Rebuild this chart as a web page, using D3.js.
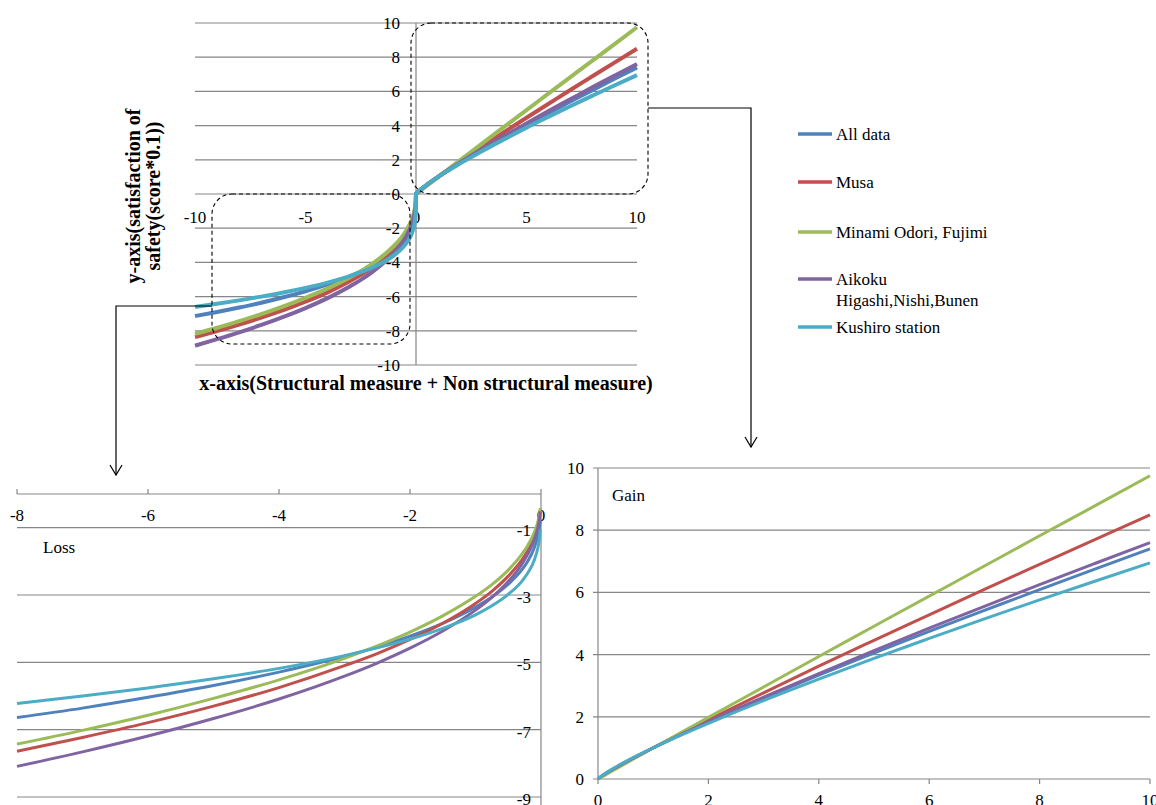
<!DOCTYPE html>
<html><head><meta charset="utf-8">
<script src="https://cdn.jsdelivr.net/npm/d3@7"></script>
<style>
body{margin:0;background:#fff}
svg{display:block}
</style>
</head><body>
<svg id="c" width="1156" height="805"></svg>
<script>
// ---------- data ----------
const seriesNames = ["All data","Musa","Minami Odori, Fujimi","Aikoku Higashi,Nishi,Bunen","Kushiro station"];
const seriesColors = ["#4F81BD","#C0504D","#9BBB59","#8064A2","#4BACC6"];

const xLoss = [-10,-9,-8,-7,-6,-5,-4,-3,-2.5,-2,-1.5,-1,-0.75,-0.5,-0.3,-0.2,-0.1,-0.05,-0.02,-0.01];
const lossAll     = [-7.14,-6.90,-6.64,-6.36,-6.04,-5.69,-5.29,-4.82,-4.54,-4.22,-3.84,-3.36,-3.06,-2.68,-2.27,-1.99,-1.58,-1.26,-0.94,-0.75];
const lossMusa    = [-8.37,-8.02,-7.64,-7.23,-6.79,-6.30,-5.75,-5.10,-4.74,-4.32,-3.84,-3.25,-2.89,-2.44,-1.98,-1.68,-1.26,-0.95,-0.65,-0.49];
const lossMinami  = [-8.18,-7.82,-7.43,-7.02,-6.57,-6.07,-5.52,-4.88,-4.51,-4.10,-3.62,-3.04,-2.69,-2.26,-1.81,-1.52,-1.13,-0.84,-0.57,-0.42];
const lossAikoku  = [-8.87,-8.49,-8.09,-7.66,-7.19,-6.67,-6.09,-5.41,-5.02,-4.58,-4.07,-3.45,-3.07,-2.60,-2.11,-1.78,-1.34,-1.01,-0.69,-0.52];
const lossKushiro = [-6.60,-6.42,-6.22,-6.00,-5.76,-5.49,-5.18,-4.80,-4.57,-4.31,-3.99,-3.59,-3.32,-2.98,-2.61,-2.34,-1.95,-1.62,-1.27,-1.06];

const xGain = [0,0.05,0.1,0.25,0.5,1,1.5,2,3,4,5,6,7,8,9,10];
const gainAll     = [0,0.07,0.14,0.30,0.55,1,1.42,1.83,2.60,3.34,4.05,4.75,5.42,6.09,6.75,7.40];
const gainMusa    = [0,0.06,0.12,0.28,0.53,1,1.46,1.90,2.77,3.63,4.46,5.28,6.10,6.90,7.70,8.49];
const gainMinami  = [0,0.05,0.10,0.25,0.50,1,1.49,1.98,2.96,3.94,4.91,5.88,6.85,7.82,8.78,9.75];
const gainAikoku  = [0,0.07,0.13,0.29,0.54,1,1.43,1.84,2.63,3.39,4.13,4.85,5.55,6.25,6.93,7.60];
const gainKushiro = [0,0.08,0.14,0.31,0.56,1,1.41,1.79,2.52,3.21,3.88,4.52,5.15,5.76,6.36,6.95];

const lossValues = [lossAll,lossMusa,lossMinami,lossAikoku,lossKushiro];
const gainValues = [gainAll,gainMusa,gainMinami,gainAikoku,gainKushiro];

const mainXTicks = [-10,-5,0,5,10];
const mainYTicks = [-10,-8,-6,-4,-2,0,2,4,6,8,10];
const lossXTicks = [-8,-6,-4,-2,0];
const lossYTicks = [-1,-3,-5,-7,-9];
const gainXTicks = [0,2,4,6,8,10];
const gainYTicks = [0,2,4,6,8,10];

const xTitle = "x-axis(Structural measure + Non structural measure)";
const yTitleLines = ["y-axis(satisfaction of","safety(score*0.1))"];

// ---------- drawing ----------
const FONT = "'Liberation Serif', 'Times New Roman', Tinos, 'DejaVu Serif', serif";
const svg = d3.select("#c").attr("font-family",FONT);
svg.append("rect").attr("width",1156).attr("height",805).attr("fill","#fff");
const GRID = "#868686";
const FS = 17;

function txt(sel){ return sel.append("text").attr("font-family",FONT).attr("fill","#000"); }

function seriesPoints(i, which){
  const pts = [];
  if (which !== "gain") xLoss.forEach((x,j)=>pts.push([x, lossValues[i][j]]));
  if (which !== "loss") xGain.forEach((x,j)=>pts.push([x, gainValues[i][j]]));
  return pts;
}

// ===== main chart =====
const mx = d3.scaleLinear().domain([-10,10]).range([195,637]);
const my = d3.scaleLinear().domain([-10,10]).range([365,23]);
const gMain = svg.append("g");
gMain.selectAll(".grid").data(mainYTicks).join("line")
  .attr("x1",mx(-10)).attr("x2",mx(10)).attr("y1",d=>my(d)).attr("y2",d=>my(d))
  .attr("stroke",GRID).attr("stroke-width",1.2);
gMain.append("line").attr("x1",mx(0)).attr("x2",mx(0)).attr("y1",my(10)).attr("y2",my(-10))
  .attr("stroke",GRID).attr("stroke-width",1.2);
gMain.selectAll(".yl").data(mainYTicks).join("text")
  .attr("font-family",FONT)
  .attr("x",mx(0)-16).attr("y",d=>my(d)).attr("dy","0.35em").attr("text-anchor","end")
  .attr("font-size",FS).text(d=>d);
gMain.selectAll(".xl").data(mainXTicks).join("text")
  .attr("font-family",FONT)
  .attr("x",d=>mx(d)).attr("y",223).attr("text-anchor","middle")
  .attr("font-size",FS).text(d=>d);
const mLine = d3.line().x(d=>mx(d[0])).y(d=>my(d[1])).curve(d3.curveMonotoneX);
seriesNames.forEach((n,i)=>{
  gMain.append("path").attr("d",mLine(seriesPoints(i,"all"))).attr("fill","none")
    .attr("stroke",seriesColors[i]).attr("stroke-width",4).attr("stroke-linejoin","round");
});
// titles
txt(svg).attr("x",426).attr("y",390).attr("text-anchor","middle")
  .attr("font-size",20).attr("font-weight","bold").text(xTitle);
yTitleLines.forEach((t,k)=>{
  txt(svg).attr("transform",`translate(${140+k*20},196) rotate(-90)`)
    .attr("text-anchor","middle").attr("font-size",20).attr("font-weight","bold").text(t);
});
// dashed boxes
svg.append("rect").attr("x",411).attr("y",23).attr("width",237).attr("height",171).attr("rx",20)
  .attr("fill","none").attr("stroke","#000").attr("stroke-dasharray","4,3").attr("stroke-width",1.1);
svg.append("rect").attr("x",212).attr("y",194).attr("width",198).attr("height",150).attr("rx",20)
  .attr("fill","none").attr("stroke","#000").attr("stroke-dasharray","4,3").attr("stroke-width",1.1);
// connectors
function connector(pts){
  svg.append("polyline").attr("points",pts.map(p=>p.join(",")).join(" "))
    .attr("fill","none").attr("stroke","#000").attr("stroke-width",1.2);
  const e = pts[pts.length-1];
  svg.append("polyline").attr("points",`${e[0]-6},${e[1]-10} ${e[0]},${e[1]} ${e[0]+6},${e[1]-10}`)
    .attr("fill","none").attr("stroke","#000").attr("stroke-width",1.2);
}
connector([[212,306],[116,306],[116,475]]);
connector([[648,108],[751,108],[751,447]]);

// legend
const legendY = [134,182,232,279,327];
seriesNames.forEach((n,i)=>{
  svg.append("line").attr("x1",798).attr("x2",832).attr("y1",legendY[i]).attr("y2",legendY[i])
    .attr("stroke",seriesColors[i]).attr("stroke-width",3.5);
});
const legendLabelLines = [["All data"],["Musa"],["Minami Odori, Fujimi"],["Aikoku","Higashi,Nishi,Bunen"],["Kushiro station"]];
legendLabelLines.forEach((lines,i)=>{
  lines.forEach((t,k)=>{
    txt(svg).attr("x",836).attr("y",legendY[i]+k*21).attr("dy","0.35em")
      .attr("font-size",FS).text(t);
  });
});

// ===== Loss panel =====
const lx = d3.scaleLinear().domain([-8,0]).range([17,541]);
const ly = d3.scaleLinear().domain([-9,0]).range([797,494]);
const gL = svg.append("g");
gL.selectAll(".grid").data(lossYTicks).join("line")
  .attr("x1",lx(-8)).attr("x2",lx(0)).attr("y1",d=>ly(d)).attr("y2",d=>ly(d))
  .attr("stroke",GRID).attr("stroke-width",1.2);
gL.append("line").attr("x1",lx(-8)).attr("x2",lx(0)).attr("y1",ly(0)).attr("y2",ly(0))
  .attr("stroke",GRID).attr("stroke-width",1.2);
gL.selectAll(".tk").data(lossXTicks).join("line")
  .attr("x1",d=>lx(d)).attr("x2",d=>lx(d)).attr("y1",ly(0)).attr("y2",ly(0)-5)
  .attr("stroke",GRID).attr("stroke-width",1.2);
gL.append("line").attr("x1",lx(0)).attr("x2",lx(0)).attr("y1",ly(0)).attr("y2",805)
  .attr("stroke",GRID).attr("stroke-width",1.2);
gL.selectAll(".xl").data(lossXTicks).join("text")
  .attr("font-family",FONT)
  .attr("x",d=>lx(d)).attr("y",521).attr("text-anchor","middle").attr("font-size",FS).text(d=>d);
gL.selectAll(".yl").data(lossYTicks).join("text")
  .attr("font-family",FONT)
  .attr("x",lx(0)-10).attr("y",d=>ly(d)+2).attr("dy","0.35em").attr("text-anchor","end")
  .attr("font-size",FS).text(d=>d);
txt(gL).attr("x",43).attr("y",553).attr("font-size",FS).text("Loss");
const lLine = d3.line().x(d=>lx(d[0])).y(d=>ly(d[1])).curve(d3.curveMonotoneX);
seriesNames.forEach((n,i)=>{
  const pts = seriesPoints(i,"loss").filter(p=>p[0]>=-8);
  gL.append("path").attr("d",lLine(pts)).attr("fill","none")
    .attr("stroke",seriesColors[i]).attr("stroke-width",3);
});

// ===== Gain panel =====
const gx = d3.scaleLinear().domain([0,10]).range([598,1150]);
const gy = d3.scaleLinear().domain([0,10]).range([779,468]);
const gG = svg.append("g");
gG.selectAll(".grid").data(gainYTicks).join("line")
  .attr("x1",gx(0)-5).attr("x2",gx(10)).attr("y1",d=>gy(d)).attr("y2",d=>gy(d))
  .attr("stroke",GRID).attr("stroke-width",1.2);
gG.append("line").attr("x1",gx(0)).attr("x2",gx(0)).attr("y1",gy(10)).attr("y2",gy(0))
  .attr("stroke",GRID).attr("stroke-width",1.2);
gG.selectAll(".tk").data(gainXTicks).join("line")
  .attr("x1",d=>gx(d)).attr("x2",d=>gx(d)).attr("y1",gy(0)).attr("y2",gy(0)+5)
  .attr("stroke",GRID).attr("stroke-width",1.2);
gG.selectAll(".yl").data(gainYTicks).join("text")
  .attr("font-family",FONT)
  .attr("x",gx(0)-14).attr("y",d=>gy(d)).attr("dy","0.35em").attr("text-anchor","end")
  .attr("font-size",FS).text(d=>d);
gG.selectAll(".xl").data(gainXTicks).join("text")
  .attr("font-family",FONT)
  .attr("x",d=>gx(d)).attr("y",806).attr("text-anchor","middle").attr("font-size",FS).text(d=>d);
txt(gG).attr("x",612).attr("y",501).attr("font-size",FS).text("Gain");
const gLine = d3.line().x(d=>gx(d[0])).y(d=>gy(d[1])).curve(d3.curveMonotoneX);
seriesNames.forEach((n,i)=>{
  gG.append("path").attr("d",gLine(seriesPoints(i,"gain"))).attr("fill","none")
    .attr("stroke",seriesColors[i]).attr("stroke-width",3);
});
</script>
</body></html>
